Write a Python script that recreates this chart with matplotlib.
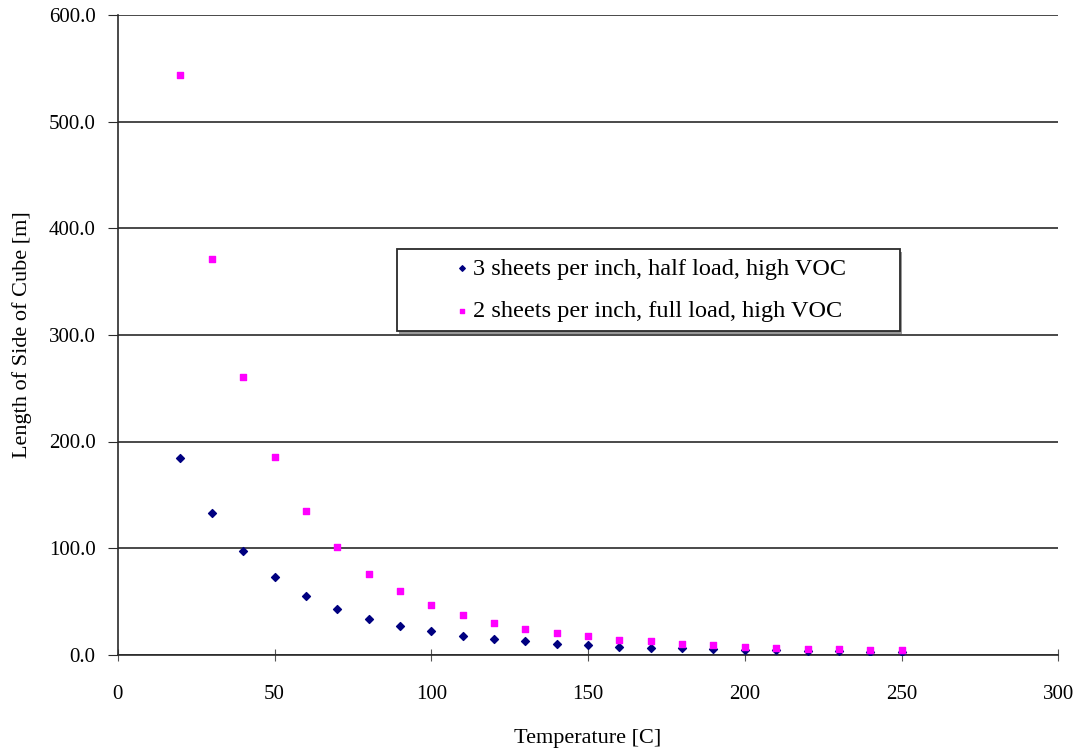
import matplotlib
matplotlib.use("Agg")
import matplotlib.pyplot as plt
import matplotlib.patches as mpatches
from matplotlib.ticker import FormatStrFormatter

plt.rcParams['font.family'] = ['Liberation Serif', 'DejaVu Serif']

# Data
temps = [20, 30, 40, 50, 60, 70, 80, 90, 100, 110, 120, 130, 140, 150,
         160, 170, 180, 190, 200, 210, 220, 230, 240, 250]
half_load = [184.7, 132.5, 97.0, 72.8, 55.3, 43.1, 33.8, 26.6, 21.9, 17.2,
             14.7, 12.5, 10.3, 8.8, 7.6, 6.7, 5.9, 5.2, 4.6, 4.1, 3.7, 3.3,
             3.0, 2.7]
full_load = [543.5, 371.0, 260.5, 185.3, 135.0, 100.8, 76.0, 59.4, 46.3,
             37.5, 29.7, 24.2, 20.3, 17.6, 14.3, 12.8, 10.5, 8.8, 7.4, 6.3,
             5.6, 5.0, 4.5, 4.0]
labels = ['3 sheets per inch, half load, high VOC',
          '2 sheets per inch, full load, high VOC']

fig = plt.figure(figsize=(10.8, 7.5), dpi=100, facecolor='white')
ax = fig.add_axes([0.109, 0.127, 0.871, 0.853])

ax.scatter(temps, half_load, marker='D', s=16, color='#000080', label=labels[0], zorder=3)
ax.scatter(temps, full_load, marker='s', s=20, color='#ff00ff', label=labels[1], zorder=3)

ax.set_xlim(0, 300)
ax.set_ylim(0, 600)
ax.set_xticks(range(0, 301, 50))
ax.set_yticks(range(0, 601, 100))
ax.yaxis.set_major_formatter(FormatStrFormatter('%.1f'))
ax.yaxis.grid(True, color='#2a2a2a', linewidth=1.2)
ax.set_axisbelow(True)

for s in ['top', 'right']:
    ax.spines[s].set_visible(False)
for s in ['left', 'bottom']:
    ax.spines[s].set_color('#2a2a2a')
    ax.spines[s].set_linewidth(1.2)

ax.tick_params(axis='y', direction='out', length=7, color='#2a2a2a', labelsize=15, pad=9)
ax.tick_params(axis='x', direction='inout', length=9, color='#555555', labelsize=15, pad=17)

ax.set_xlabel('Temperature [C]', fontsize=16, labelpad=18)
ax.set_ylabel('Length of Side of Cube [m]', fontsize=16, labelpad=12)

# legend box (wider than its text, with a thin shadow underneath)
box_x, box_y, box_w, box_h = 0.297, 0.506, 0.535, 0.128
ax.add_patch(mpatches.Rectangle((box_x + 0.002, box_y - 0.004), box_w, box_h,
                                transform=ax.transAxes, facecolor='#999999',
                                edgecolor='none', zorder=4))
ax.add_patch(mpatches.Rectangle((box_x, box_y), box_w, box_h, transform=ax.transAxes,
                                facecolor='white', edgecolor='#2a2a2a',
                                linewidth=1.3, zorder=4))

leg = ax.legend(loc='center', bbox_to_anchor=(box_x + box_w / 2, box_y + box_h / 2),
                fontsize=17.5, frameon=False, borderpad=0.2,
                handletextpad=0.0, labelspacing=0.85, handlelength=0.9,
                markerscale=0.7)
leg.set_zorder(5)

fig.savefig('out.png', dpi=100, facecolor='white')
